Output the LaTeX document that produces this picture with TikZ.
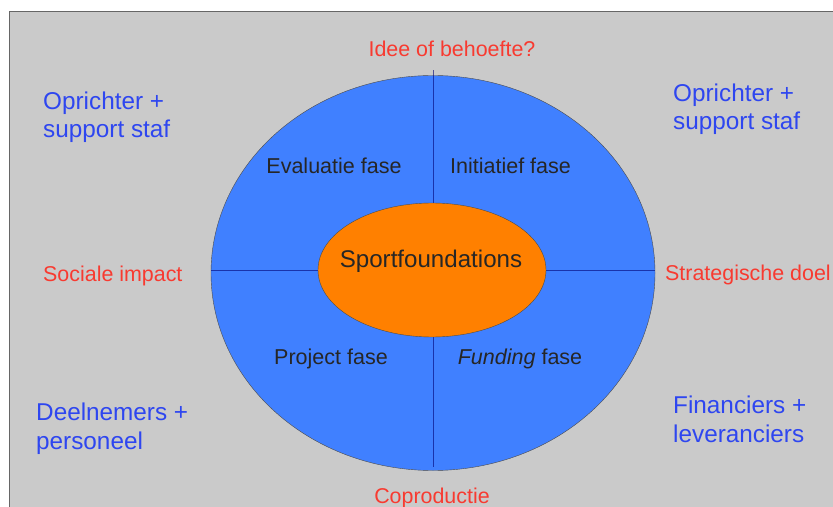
\documentclass[tikz,border=0pt]{standalone}
\usepackage{fontspec}
\setmainfont{Liberation Sans}
\usetikzlibrary{shapes.geometric}

\definecolor{achtergrond}{RGB}{202,202,202}
\definecolor{kringblauw}{RGB}{64,128,255}
\definecolor{kernoranje}{RGB}{255,128,0}
\definecolor{actorblauw}{RGB}{46,70,240}
\definecolor{pijlerrood}{RGB}{248,58,48}

\tikzset{
	actor/.style={text=actorblauw, align=left, anchor=base west, inner sep=0,
		font=\fontsize{24.4}{29}\selectfont},
	pijler/.style={text=pijlerrood, anchor=base, inner sep=0,
		font=\fontsize{21.5}{25}\selectfont},
	fase/.style={text=black!85, anchor=base, inner sep=0,
		font=\fontsize{21.6}{25}\selectfont},
	deellijn/.style={draw=blue!45!black, line width=0.6bp, opacity=0.6}
}

\begin{document}
\begin{tikzpicture}[x=1bp,y=-1bp]%[minimum width=40]
	\useasboundingbox (0,0) rectangle (833,507);
	\fill[white] (0,0) rectangle (833,507);
	\fill[achtergrond] (9,11) rectangle (833,507);
	\draw[black!60, line width=1.2bp] (9.6,507) -- (9.6,11.6) -- (833,11.6);

	\node[ellipse, draw=black!70, fill=kringblauw, inner sep=0,
		minimum width=444bp, minimum height=395bp] (kring) at (433,273) {};
	\draw[deellijn] ([yshift=5bp]kring.north) -- ([yshift=4bp]kring.south);
	\draw[deellijn] ([yshift=3bp]kring.west) -- ([yshift=3bp]kring.east);

	\node[ellipse, draw=black!70, fill=kernoranje, inner sep=0,
		minimum width=228bp, minimum height=134bp] (kern) at (432,270) {};
	\node[fase, font=\fontsize{24.2}{28}\selectfont] (naam) at (431,268) {Sportfoundations};

	\node[fase] (evaluatie) at (334,174) {Evaluatie fase};
	\node[fase] (initiatief) at (510.5,174) {Initiatief fase};
	\node[fase] (project) at (331,364) {Project fase};
	\node[fase] (funding) at (520,364) {\textit{Funding} fase};

	\node[pijler] (idee) at (452,57) {Idee of behoefte?};
	\node[pijler, anchor=base west] (impact) at (43,282) {Sociale impact};
	\node[pijler, anchor=base west] (doel) at (665,281) {Strategische doel};
	\node[pijler] (coproductie) at (432,503.5) {Coproductie};

	\node[actor] (oprichterL) at (43,138) {Oprichter +\\support staf};
	\node[actor] (oprichterR) at (673,130) {Oprichter +\\support staf};
	\node[actor] (deelnemers) at (36,449) {Deelnemers +\\personeel};
	\node[actor] (financiers) at (673,442) {Financiers +\\leveranciers};
\end{tikzpicture}
\end{document}
